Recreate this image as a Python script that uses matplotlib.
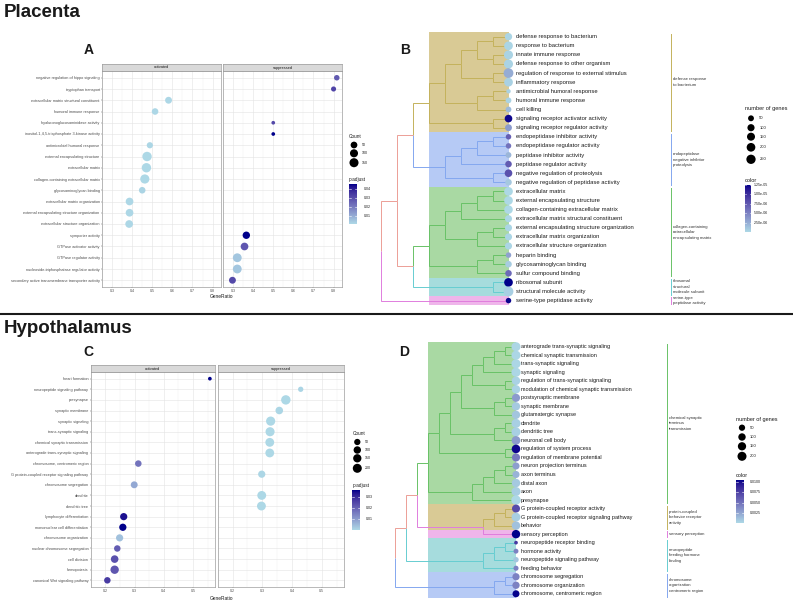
import numpy as np
import matplotlib
matplotlib.use("Agg")
import matplotlib.pyplot as plt
from matplotlib.colors import LinearSegmentedColormap, to_rgb
from matplotlib.patches import Rectangle
from matplotlib.transforms import offset_copy

W, H = 793, 601
PT = 0.72  # points per pixel at dpi 100

# ---------------- panel A (placenta dotplot) ----------------
a_terms = [
    "negative regulation of hippo signaling", "tryptophan transport",
    "extracellular matrix structural constituent", "humoral immune response",
    "hyaluronoglucosaminidase activity", "inositol-1,4,5-trisphosphate 3-kinase activity",
    "antimicrobial humoral response", "external encapsulating structure",
    "extracellular matrix", "collagen-containing extracellular matrix",
    "glycosaminoglycan binding", "extracellular matrix organization",
    "external encapsulating structure organization", "extracellular structure organization",
    "symporter activity", "GTPase activator activity", "GTPase regulator activity",
    "nucleoside-triphosphatase regulator activity",
    "secondary active transmembrane transporter activity",
]
a_group = ["suppressed", "suppressed", "activated", "activated", "suppressed", "suppressed",
           "activated", "activated", "activated", "activated", "activated", "activated",
           "activated", "activated", "suppressed", "suppressed", "suppressed", "suppressed",
           "suppressed"]
a_ratio = [0.816, 0.800, 0.581, 0.514, 0.500, 0.500, 0.488, 0.474, 0.471, 0.463, 0.450,
           0.387, 0.387, 0.385, 0.366, 0.357, 0.321, 0.321, 0.297]
a_count = [20, 13, 55, 45, 3, 3, 35, 170, 168, 157, 45, 85, 85, 85, 73, 85, 138, 138, 55]
a_padj = [0.026, 0.031, 0.0005, 0.0006, 0.030, 0.044, 0.0008, 0.0003, 0.0003, 0.0003,
          0.0012, 0.0005, 0.0005, 0.0005, 0.044, 0.027, 0.004, 0.004, 0.030]

# ---------------- panel C (hypothalamus dotplot) ----------------
c_terms = [
    "heart formation", "neuropeptide signaling pathway", "presynapse", "synaptic membrane",
    "synaptic signaling", "trans-synaptic signaling", "chemical synaptic transmission",
    "anterograde trans-synaptic signaling", "chromosome, centromeric region",
    "G protein-coupled receptor signaling pathway", "chromosome segregation", "dendrite",
    "dendritic tree", "lymphocyte differentiation", "mononuclear cell differentiation",
    "chromosome organization", "nuclear chromosome segregation", "cell division",
    "hemopoiesis", "canonical Wnt signaling pathway",
]
c_group = ["activated", "suppressed", "suppressed", "suppressed", "suppressed", "suppressed",
           "suppressed", "suppressed", "activated", "suppressed", "activated", "suppressed",
           "suppressed", "activated", "activated", "activated", "activated", "activated",
           "activated", "activated"]
c_ratio = [0.558, 0.429, 0.379, 0.357, 0.328, 0.326, 0.325, 0.325, 0.313, 0.298, 0.299,
           0.298, 0.297, 0.263, 0.260, 0.249, 0.241, 0.232, 0.232, 0.207]
c_count = [4, 22, 230, 108, 212, 205, 187, 185, 60, 90, 75, 190, 190, 90, 92, 88, 58, 110,
           155, 58]
c_padj = [0.036, 0.0008, 0.0001, 0.0004, 0.0001, 0.0001, 0.0001, 0.0001, 0.017, 0.0005,
          0.008, 0.0002, 0.0002, 0.034, 0.036, 0.004, 0.021, 0.023, 0.022, 0.027]

# ---------------- panel B (placenta tree) ----------------
b_terms = [
    "defense response to bacterium", "response to bacterium", "innate immune response",
    "defense response to other organism", "regulation of response to external stimulus",
    "inflammatory response", "antimicrobial humoral response", "humoral immune response",
    "cell killing", "signaling receptor activator activity",
    "signaling receptor regulator activity", "endopeptidase inhibitor activity",
    "endopeptidase regulator activity", "peptidase inhibitor activity",
    "peptidase regulator activity", "negative regulation of proteolysis",
    "negative regulation of peptidase activity", "extracellular matrix",
    "external encapsulating structure", "collagen-containing extracellular matrix",
    "extracellular matrix structural constituent",
    "external encapsulating structure organization", "extracellular matrix organization",
    "extracellular structure organization", "heparin binding", "glycosaminoglycan binding",
    "sulfur compound binding", "ribosomal subunit", "structural molecule activity",
    "serine-type peptidase activity",
]
b_count = [109, 203, 230, 230, 300, 203, 30, 48, 48, 127, 87, 41, 41, 48, 73, 127, 73, 200,
           200, 190, 97, 97, 97, 97, 41, 73, 73, 200, 300, 41]
b_padj = [0.3e-6, 0.3e-6, 0.4e-6, 0.4e-6, 2.6e-6, 0.5e-6, 0.5e-6, 0.4e-6, 1.8e-6, 12.2e-6,
          3.6e-6, 7.2e-6, 6.0e-6, 2.0e-6, 7.4e-6, 8.0e-6, 1.0e-6, 0.1e-6, 0.1e-6, 0.1e-6,
          0.2e-6, 0.3e-6, 0.3e-6, 0.3e-6, 3.2e-6, 0.8e-6, 6.5e-6, 12.5e-6, 0.6e-6, 12.3e-6]
b_tan = (((((0, 1), (2, 3)), (4, 5)), ((6, 7), 8)), (9, 10))
b_blue = ((((11, 12), 13), 14), (15, 16))
b_green = (((((17, 18), 19), 20), ((21, 22), 23)), ((24, 25), 26))
b_tree = (((b_tan, b_blue), (b_green, (27, 28))), 29)
b_clusters = [
    ("defense response\nto bacterium", 0, 10, "tan"),
    ("endopeptidase\nnegative inhibitor\nproteolysis", 11, 16, "blue"),
    ("collagen-containing\nextracellular\nencapsulating matrix", 17, 26, "green"),
    ("ribosomal\nstructural\nmolecule subunit", 27, 28, "cyan"),
    ("serine-type\npeptidase activity", 29, 29, "pink"),
]

# ---------------- panel D (hypothalamus tree) ----------------
d_terms = [
    "anterograde trans-synaptic signaling", "chemical synaptic transmission",
    "trans-synaptic signaling", "synaptic signaling", "regulation of trans-synaptic signaling",
    "modulation of chemical synaptic transmission", "postsynaptic membrane",
    "synaptic membrane", "glutamatergic synapse", "dendrite", "dendritic tree",
    "neuronal cell body", "regulation of system process", "regulation of membrane potential",
    "neuron projection terminus", "axon terminus", "distal axon", "axon", "presynapse",
    "G protein-coupled receptor activity", "G protein-coupled receptor signaling pathway",
    "behavior", "sensory perception", "neuropeptide receptor binding", "hormone activity",
    "neuropeptide signaling pathway", "feeding behavior", "chromosome segregation",
    "chromosome organization", "chromosome, centromeric region",
]
d_count = [200, 200, 205, 210, 160, 160, 140, 150, 150, 200, 200, 180, 170, 140, 86, 85,
           160, 200, 230, 135, 187, 160, 160, 5, 15, 25, 18, 90, 95, 80]
d_padj = [2e-4, 2e-4, 2e-4, 2e-4, 4e-4, 4e-4, 30e-4, 8e-4, 10e-4, 5e-4, 5e-4, 30e-4, 100e-4,
          45e-4, 28e-4, 18e-4, 8e-4, 6e-4, 1e-4, 68e-4, 6e-4, 12e-4, 102e-4, 78e-4, 42e-4,
          10e-4, 42e-4, 42e-4, 42e-4, 101e-4]
d_green = ((((((((0, 1), 2), 3), (4, 5)), ((6, 7), 8)), ((9, 10), 11)), (12, 13)),
           ((((14, 15), 16), 17), 18))
d_tree = ((((d_green, (((19, 20), 21), 22)), (((23, 24), 25), 26)), ((27, 28), 29)))
d_clusters = [
    ("chemical synaptic\nterminus\ntransmission", 0, 18, "green"),
    ("protein-coupled\nbehavior receptor\nactivity", 19, 21, "tan"),
    ("sensory perception", 22, 22, "pink"),
    ("neuropeptide\nfeeding hormone\nbinding", 23, 26, "cyan"),
    ("chromosome\norganization\ncentromeric region", 27, 29, "blue"),
]

# ---------------- styling ----------------
fills = {"tan": "#d9ca95", "blue": "#b6caf5", "green": "#a9d9a3", "cyan": "#a6dcdd",
         "pink": "#efb5ea"}
lines = {"tan": "#c4b25c", "blue": "#84a7ef", "green": "#69c267", "cyan": "#67cdd1",
         "pink": "#e07ddd"}
SALMON = "#ec9f96"
LOW, HIGH = "#ADD8E6", "#00008B"
TXT = "#1a1a1a"
GREY = "#4d4d4d"

plt.rcParams['font.family'] = ['Liberation Sans', 'DejaVu Sans']

M = np.array([[0.4124, 0.3576, 0.1805], [0.2126, 0.7152, 0.0722], [0.0193, 0.1192, 0.9505]])
WHITE = np.array([0.95047, 1.0, 1.08883])


def to_lab(col):
    rgb = np.array(to_rgb(col))
    lin = np.where(rgb <= 0.04045, rgb / 12.92, ((rgb + 0.055) / 1.055) ** 2.4)
    xyz = M @ lin / WHITE
    d = 6 / 29
    f = np.where(xyz > d ** 3, np.cbrt(xyz), xyz / (3 * d * d) + 4 / 29)
    return np.array([116 * f[1] - 16, 500 * (f[0] - f[1]), 200 * (f[1] - f[2])])


def from_lab(lab):
    fy = (lab[0] + 16) / 116
    f = np.array([fy + lab[1] / 500, fy, fy - lab[2] / 200])
    d = 6 / 29
    xyz = np.where(f > d, f ** 3, 3 * d * d * (f - 4 / 29)) * WHITE
    lin = np.clip(np.linalg.solve(M, xyz), 0, 1)
    rgb = np.where(lin <= 0.0031308, 12.92 * lin, 1.055 * lin ** (1 / 2.4) - 0.055)
    return np.clip(rgb, 0, 1)


# ggplot-style gradient: interpolate low -> high in Lab space
lab_lo, lab_hi = to_lab(LOW), to_lab(HIGH)
cmap = LinearSegmentedColormap.from_list(
    "lab_blues", [from_lab(lab_lo + (lab_hi - lab_lo) * t) for t in np.linspace(0, 1, 65)])


def px_box(x0, y0, x1, y1):
    return [x0 / W, 1 - y1 / H, (x1 - x0) / W, (y1 - y0) / H]


def size_fn(counts, lo, hi):
    # area scale like scale_size(): min count -> lo, max count -> hi (diameter, px)
    cmin, cmax = min(counts), max(counts)
    return lambda c: lo + (hi - lo) * np.sqrt(np.clip((np.asarray(c, float) - cmin) / (cmax - cmin), 0, 1))


def colors_for(padj):
    p = np.asarray(padj)
    return cmap((p - p.min()) / (p.max() - p.min()))


fig = plt.figure(figsize=(W / 100, H / 100), dpi=100)


def dotplot(terms, groups, ratio, count, padj, xs, top, bottom, strip_top, major, sz):
    n = len(terms)
    rows = np.arange(n)
    groups = np.array(groups)
    ratio = np.array(ratio)
    dia = sz(count)
    cols = colors_for(padj)
    lo, hi = ratio.min(), ratio.max()
    pad = 0.05 * (hi - lo)
    step = major[1] - major[0]
    minor = np.arange(major[0] - step / 2, hi + pad, step)
    for k, g in enumerate(["activated", "suppressed"]):
        x0, x1 = xs[k]
        ax = fig.add_axes(px_box(x0, top, x1, bottom))
        ax.set_xlim(lo - pad, hi + pad)
        ax.set_ylim(n - 0.4, -0.6)
        sel = groups == g
        ax.scatter(ratio[sel], rows[sel], s=(dia[sel] * PT) ** 2, c=cols[sel],
                   linewidths=0, zorder=3)
        ax.set_xticks(major)
        ax.set_xticklabels([f"{v:.1f}" for v in major])
        ax.set_xticks(minor, minor=True)
        ax.set_yticks(rows)
        ax.set_yticklabels(terms if k == 0 else [])
        ax.grid(which="major", color="#e3e3e3", lw=0.4)
        ax.grid(which="minor", axis="x", color="#efefef", lw=0.3)
        ax.set_axisbelow(True)
        ax.tick_params(which="major", length=0.9, width=0.3, color=GREY, labelsize=2.6,
                       labelcolor=GREY, pad=0.8)
        ax.tick_params(axis="y", length=0.9 if k == 0 else 0, labelsize=2.8)
        ax.tick_params(which="minor", length=0)
        for s in ax.spines.values():
            s.set_color("#9c9c9c")
            s.set_linewidth(0.5)
        st = fig.add_axes(px_box(x0, strip_top, x1, top))
        st.set_facecolor("#d9d9d9")
        st.set_xticks([])
        st.set_yticks([])
        for s in st.spines.values():
            s.set_color("#9c9c9c")
            s.set_linewidth(0.5)
        st.text(0.5, 0.5, g, ha="center", va="center", fontsize=2.8, color=TXT,
                transform=st.transAxes)


sz_a = size_fn(a_count, 3.7, 9.4)
sz_c = size_fn(c_count, 3.7, 9.4)
dotplot(a_terms, a_group, a_ratio, a_count, a_padj, [(102, 221), (223, 342)], 71, 287, 64,
        [0.3, 0.4, 0.5, 0.6, 0.7, 0.8], sz_a)
dotplot(c_terms, c_group, c_ratio, c_count, c_padj, [(90.7, 215), (217.7, 344.3)], 372.3,
        586.7, 365, [0.2, 0.3, 0.4, 0.5], sz_c)


def tree_walk(node, segs, heights):
    # cladogram layout: tips at x=0, each node one level left of its deepest child
    if isinstance(node, int):
        heights[frozenset([node])] = 0
        return float(node), 0, [node]
    kids = [tree_walk(k, segs, heights) for k in node]
    h = 1 + max(k[1] for k in kids)
    y = (kids[0][0] + kids[-1][0]) / 2
    leaves = []
    for yc, hc, lv in kids:
        segs.append((-h, y, -hc, yc, lv))
        leaves += lv
    heights[frozenset(leaves)] = h
    return y, h, leaves


def treeplot(terms, count, padj, tree, clusters, leaf_px, step_px, row1, rstep, box,
             lab_off, lab_fs, bar_px, mixed, sz):
    x0, y0, x1, y1 = box
    ax = fig.add_axes(px_box(*box))
    ax.set_xlim((x0 - leaf_px) / step_px, (x1 - leaf_px) / step_px)
    ax.set_ylim((y1 - row1) / rstep, (y0 - row1) / rstep)
    ax.axis("off")
    leaf_cl = {}
    for _, r0, r1, key in clusters:
        for r in range(r0, r1 + 1):
            leaf_cl[r] = key
    segs, heights = [], {}
    tree_walk(tree, segs, heights)
    maxh = max(heights[frozenset(range(r0, r1 + 1))] for _, r0, r1, _ in clusters)
    for _, r0, r1, key in clusters:
        ax.add_patch(Rectangle((-maxh, r0 - 0.5), maxh, r1 - r0 + 1, fc=fills[key],
                               ec="none", zorder=1))
    for xp, yp, xc, yc, lv in segs:
        keys = frozenset(leaf_cl[i] for i in lv)
        col = lines[next(iter(keys))] if len(keys) == 1 else mixed.get(keys, SALMON)
        ax.plot([xp, xp, xc], [yp, yc, yc], color=col, lw=0.7, zorder=2,
                solid_joinstyle="miter", solid_capstyle="butt")
    rows = np.arange(len(terms))
    ax.scatter(np.zeros(len(terms)), rows, s=(sz(count) * PT) ** 2, c=colors_for(padj),
               linewidths=0, zorder=3, clip_on=False)
    tr = offset_copy(ax.transData, fig=fig, x=lab_off * PT, y=0, units="points")
    for r, t in enumerate(terms):
        ax.text(0, r, t, transform=tr, fontsize=lab_fs, va="center", ha="left", color=TXT)
    xb = (bar_px - leaf_px) / step_px
    xt = (bar_px + 1.8 - leaf_px) / step_px
    for lab, r0, r1, key in clusters:
        ax.plot([xb, xb], [r0 - 0.35, r1 + 0.35], color=lines[key], lw=0.7, clip_on=False)
        ax.text(xt, (r0 + r1) / 2, lab, fontsize=3.1, va="center", ha="left", color="#333333",
                linespacing=1.5, clip_on=False)


sz_b = size_fn(b_count, 4.4, 9.8)
sz_d = size_fn(d_count, 3.7, 9.4)
treeplot(b_terms, b_count, b_padj, b_tree, b_clusters, 508.5, 15.9, 36.7, 9.1,
         (360, 25, 793, 312), 7.5, 4.2, 671, {}, sz_b)
treeplot(d_terms, d_count, d_padj, d_tree, d_clusters, 516, 10.97, 346.7, 8.52,
         (360, 335, 793, 601), 4.7, 4.0, 667, {frozenset(["tan", "pink"]): lines["pink"]}, sz_d)

# ---------------- overlay: titles, panel letters, legends ----------------
ov = fig.add_axes([0, 0, 1, 1])
ov.set_xlim(0, W)
ov.set_ylim(H, 0)
ov.axis("off")

ov.text(4, 17, "Placenta", fontsize=13.5, fontweight="bold", color=TXT, va="baseline")
ov.text(4, 333, "Hypothalamus", fontsize=13.5, fontweight="bold", color=TXT, va="baseline")
ov.plot([0, W], [313.7, 313.7], color="#1a1a1a", lw=1.5, solid_capstyle="butt")
for letter, x, y in [("A", 88.5, 50), ("B", 405, 49.5), ("C", 88.5, 352), ("D", 404.5, 352.3)]:
    ov.text(x, y, letter, fontsize=10, fontweight="bold", color=TXT, ha="center", va="center")

ov.text(222, 296, "GeneRatio", fontsize=3.5, ha="center", va="center", color=TXT)
ov.text(221.7, 598.5, "GeneRatio", fontsize=3.5, ha="center", va="center", color=TXT)


def size_legend(title, x, ty, breaks, ys, dot_x, lab_x, sz, tfs, lfs):
    ov.text(x, ty, title, fontsize=tfs, va="center", ha="left", color=TXT)
    ov.scatter([dot_x] * len(breaks), ys, s=(sz(breaks) * PT) ** 2, c="black", linewidths=0)
    for b, y in zip(breaks, ys):
        ov.text(lab_x, y, str(b), fontsize=lfs, va="center", ha="left", color=TXT)


def color_legend(title, x, ty, bar, padj, ticks, fmt, lab_x, tfs, lfs):
    bx0, by0, bx1, by1 = bar
    ov.text(x, ty, title, fontsize=tfs, va="center", ha="left", color=TXT)
    grad = np.linspace(0, 1, 120).reshape(-1, 1)
    ov.imshow(grad, cmap=cmap, extent=[bx0, bx1, by1, by0], origin="lower", aspect="auto",
              zorder=2)
    pmin, pmax = min(padj), max(padj)
    wtick = (bx1 - bx0) / 5
    for v in ticks:
        y = by1 - (v - pmin) / (pmax - pmin) * (by1 - by0)
        ov.plot([bx0, bx0 + wtick], [y, y], color="white", lw=0.4, zorder=3)
        ov.plot([bx1 - wtick, bx1], [y, y], color="white", lw=0.4, zorder=3)
        ov.text(lab_x, y, fmt(v), fontsize=lfs, va="center", ha="left", color=TXT)


size_legend("Count", 349, 137, [50, 100, 150], [145, 153.3, 162.7], 354, 362, sz_a, 3.4, 2.6)
color_legend("p.adjust", 349, 180, (349, 185, 357, 224.3), a_padj, [0.01, 0.02, 0.03, 0.04],
             lambda v: f"{v:.2f}", 364, 3.4, 2.6)
size_legend("Count", 352.3, 433.3, [50, 100, 150, 200], [442, 450, 458.3, 468.3], 357.3, 365,
            sz_c, 3.4, 2.6)
color_legend("p.adjust", 352.3, 485, (352.3, 490.7, 360, 530), c_padj, [0.01, 0.02, 0.03],
             lambda v: f"{v:.2f}", 366, 3.4, 2.6)
size_legend("number of genes", 745, 108.3, [50, 100, 150, 200, 250],
            [118.3, 127.7, 136.7, 147.3, 159.3], 751, 759.3, sz_b, 4.1, 3.0)
color_legend("color", 745, 180.3, (745, 185, 751, 231.7), b_padj,
             [2.5e-6, 5e-6, 7.5e-6, 1e-5, 1.25e-5], lambda v: f"{v:.2e}", 753.5, 4.1, 2.6)
size_legend("number of genes", 736, 419, [50, 100, 150, 200], [427.7, 437, 446.3, 456.3], 742,
            750, sz_d, 4.0, 3.0)
color_legend("color", 736, 475.7, (736, 481, 744, 523.3), d_padj,
             [0.0025, 0.005, 0.0075, 0.01], lambda v: f"{v:.4f}", 750, 4.0, 2.6)
ov.set_xlim(0, W)
ov.set_ylim(H, 0)

fig.savefig("out.png", dpi=100)
